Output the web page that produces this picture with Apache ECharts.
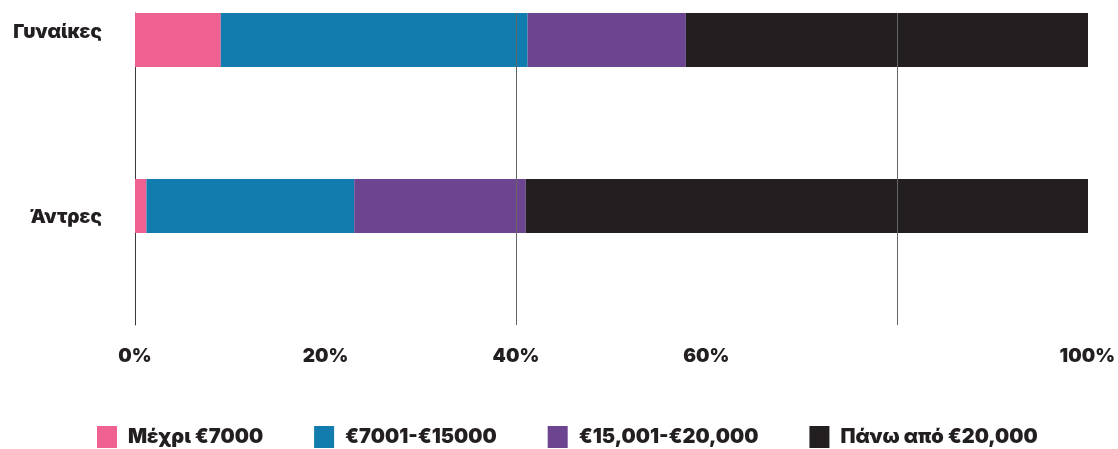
<!DOCTYPE html>
<html>
<head>
<meta charset="utf-8">
<script src="https://cdn.jsdelivr.net/npm/echarts@6/dist/echarts.min.js"></script>
<style>
html,body{margin:0;padding:0;background:#fff;}
#chart{width:1118px;height:449px;}
</style>
</head>
<body>
<div id="chart"></div>
<script>
const categories = ['Γυναίκες', 'Άντρες'];
const seriesNames = ['Μέχρι €7000', '€7001-€15000', '€15,001-€20,000', 'Πάνω από €20,000'];
const upTo7000 = [9.0, 1.2];
const from7001To15000 = [32.2, 21.8];
const from15001To20000 = [16.6, 18.0];
const over20000 = [42.2, 59.0];
const tickValues = [0, 20, 40, 60, 100];
const gridLineValues = [40, 80];
const colors = ['#EE6190', '#117CAD', '#6C4490', '#231F20'];

const FONT = 'Inter';
const WEIGHT = 900;
const seriesData = [upTo7000, from7001To15000, from15001To20000, over20000];

const chart = echarts.init(document.getElementById('chart'), null, {renderer: 'canvas'});

const barSeries = seriesNames.map((name, i) => ({
  name: name,
  type: 'bar',
  stack: 'total',
  xAxisIndex: 0,
  yAxisIndex: 0,
  barWidth: 54,
  clip: false,
  itemStyle: {color: colors[i]},
  emphasis: {disabled: true},
  data: seriesData[i]
}));

const option = {
  animation: false,
  backgroundColor: '#ffffff',
  grid: [
    {left: 135, right: 30, top: 40, height: 166, containLabel: false},
    {left: 135, right: 30, top: 13, height: 312, containLabel: false}
  ],
  xAxis: [
    {type: 'value', gridIndex: 0, min: 0, max: 100, show: false},
    {
      type: 'value', gridIndex: 1, min: 0, max: 100, interval: 20,
      axisLine: {show: false}, axisTick: {show: false}, splitLine: {show: false},
      axisLabel: {
        margin: 22,
        color: '#231F20',
        fontFamily: FONT,
        fontWeight: WEIGHT,
        fontSize: 19,
        formatter: v => tickValues.indexOf(v) >= 0 ? v + '%' : ''
      }
    }
  ],
  yAxis: [
    {
      type: 'category', gridIndex: 0, inverse: true, data: categories,
      boundaryGap: false,
      axisLine: {show: false}, axisTick: {show: false}, splitLine: {show: false},
      axisLabel: {
        margin: 33,
        color: '#231F20',
        fontFamily: FONT,
        fontWeight: WEIGHT,
        fontSize: 19,
        formatter: (v, idx) => idx === 0 ? '{up|' + v + '}' : '{down|' + v + '}',
        rich: {
          up: {fontFamily: FONT, fontWeight: WEIGHT, fontSize: 19, color: '#231F20', padding: [0, 0, 16, 0]},
          down: {fontFamily: FONT, fontWeight: WEIGHT, fontSize: 19, color: '#231F20', padding: [22, 0, 0, 0]}
        }
      }
    },
    {
      type: 'value', gridIndex: 1, min: 0, max: 1,
      axisLine: {show: true, lineStyle: {color: '#3a3a3a', width: 1}},
      axisTick: {show: false}, axisLabel: {show: false}, splitLine: {show: false}
    }
  ],
  legend: {
    data: seriesNames,
    left: 97,
    top: 426,
    padding: 0,
    icon: 'rect',
    itemWidth: 20,
    itemHeight: 22,
    itemGap: 51,
    textStyle: {
      color: '#231F20',
      fontFamily: FONT,
      fontWeight: WEIGHT,
      fontSize: 20,
      padding: [0, 0, 0, 6]
    }
  },
  series: barSeries.concat([{
    name: 'gridlines',
    type: 'line',
    xAxisIndex: 1,
    yAxisIndex: 1,
    data: [],
    z: 10,
    silent: true,
    markLine: {
      silent: true,
      symbol: ['none', 'none'],
      label: {show: false},
      lineStyle: {color: '#666666', width: 1, type: 'solid'},
      emphasis: {disabled: true},
      data: gridLineValues.map(v => ({xAxis: v}))
    }
  }])
};

chart.setOption(option);
</script>
</body>
</html>
